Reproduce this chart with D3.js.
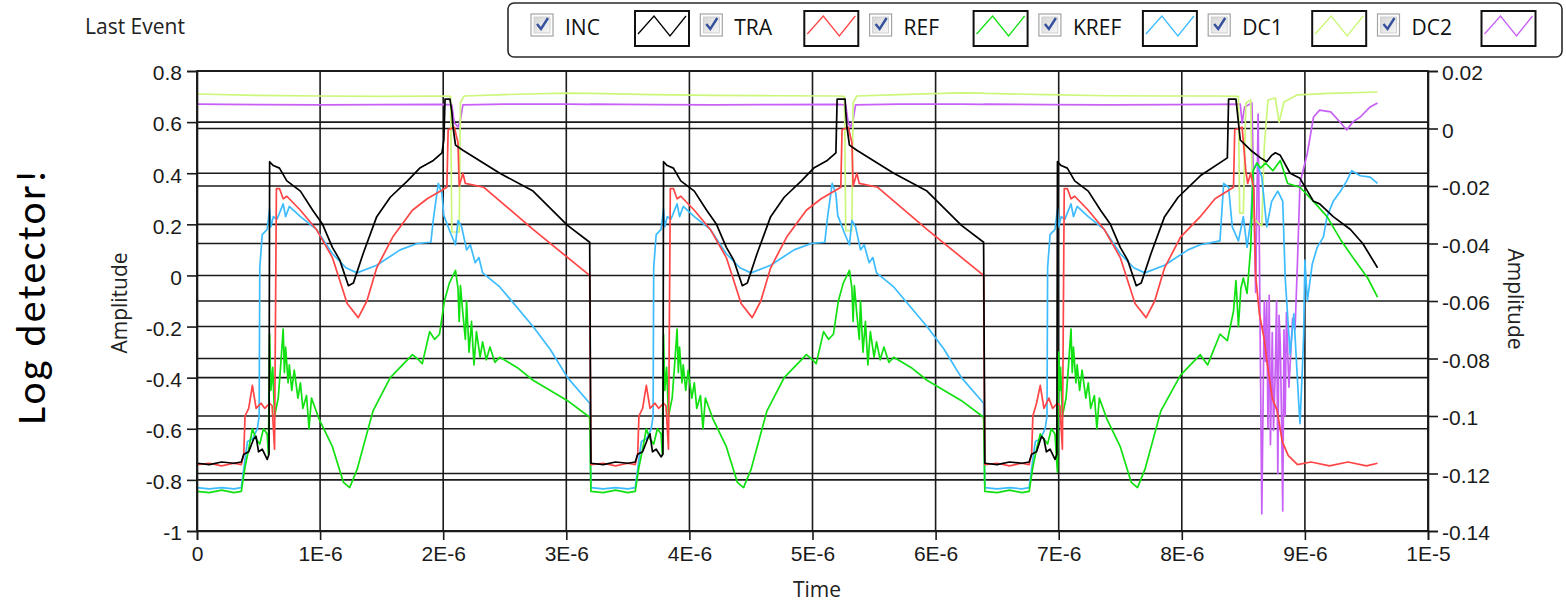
<!DOCTYPE html>
<html>
<head>
<meta charset="utf-8">
<script src="https://cdn.jsdelivr.net/npm/d3@7"></script>
<style>
  body { margin: 0; background: #fff; }
  svg { display: block; font-family: "Segoe UI", "Open Sans", sans-serif; }
</style>
</head>
<body>
<svg width="1566" height="606"></svg>
<script>
// legend / plots
var seriesNames = ["INC", "TRA", "REF", "KREF", "DC1", "DC2"];
var seriesColors = ["#000000", "#ff4545", "#11e011", "#3cbcff", "#ccf77a", "#c860f5"];

// ticks
var timeTicks = [0, 1e-6, 2e-6, 3e-6, 4e-6, 5e-6, 6e-6, 7e-6, 8e-6, 9e-6, 1e-5];
var timeLabels = ["0", "1E-6", "2E-6", "3E-6", "4E-6", "5E-6", "6E-6", "7E-6", "8E-6", "9E-6", "1E-5"];
var leftTicks = [0.8, 0.6, 0.4, 0.2, 0, -0.2, -0.4, -0.6, -0.8, -1];
var leftLabels = ["0.8", "0.6", "0.4", "0.2", "0", "-0.2", "-0.4", "-0.6", "-0.8", "-1"];
var rightTicks = [0.02, 0, -0.02, -0.04, -0.06, -0.08, -0.1, -0.12, -0.14];
var rightLabels = ["0.02", "0", "-0.02", "-0.04", "-0.06", "-0.08", "-0.1", "-0.12", "-0.14"];

// traces: [time in microseconds, amplitude]
var inc = [
  [0,-0.735],[0.1,-0.74],[0.2,-0.73],[0.3,-0.735],[0.36,-0.73],[0.38,-0.70],[0.42,-0.69],[0.46,-0.64],[0.48,-0.63],[0.5,-0.69],[0.53,-0.68],[0.57,-0.72],[0.585,-0.70],
  [0.59,0.445],[0.62,0.43],[0.67,0.42],[0.73,0.37],[0.84,0.33],[0.94,0.255],[1.02,0.20],[1.10,0.11],[1.16,0.06],[1.23,-0.04],[1.27,-0.03],[1.35,0.086],[1.46,0.23],[1.57,0.306],[1.71,0.37],[1.81,0.42],[1.92,0.45],[1.99,0.48],[2.005,0.53],
  [2.015,0.69],[2.055,0.69],[2.07,0.64],[2.08,0.58],[2.10,0.51],[2.16,0.49],[2.46,0.40],[2.73,0.33],[3.01,0.196],[3.19,0.13],
  [3.2,-0.735],[3.3,-0.74],[3.4,-0.73],[3.5,-0.735],[3.56,-0.73],[3.58,-0.70],[3.62,-0.69],[3.66,-0.64],[3.68,-0.62],[3.70,-0.69],[3.73,-0.68],[3.77,-0.71],[3.785,-0.70],
  [3.79,0.445],[3.82,0.43],[3.87,0.42],[3.93,0.37],[4.04,0.33],[4.14,0.255],[4.22,0.20],[4.30,0.11],[4.36,0.06],[4.43,-0.04],[4.47,-0.03],[4.55,0.086],[4.66,0.23],[4.77,0.306],[4.91,0.37],[5.01,0.42],[5.12,0.45],[5.19,0.48],
  [5.20,0.69],[5.265,0.69],[5.27,0.64],[5.28,0.58],[5.30,0.51],[5.36,0.49],[5.66,0.40],[5.93,0.33],[6.21,0.196],[6.39,0.13],
  [6.4,-0.735],[6.5,-0.74],[6.6,-0.73],[6.7,-0.735],[6.76,-0.73],[6.78,-0.70],[6.82,-0.69],[6.86,-0.63],[6.88,-0.64],[6.90,-0.69],[6.93,-0.68],[6.97,-0.72],[6.985,-0.70],
  [6.99,0.445],[7.02,0.43],[7.07,0.42],[7.13,0.37],[7.24,0.33],[7.34,0.255],[7.42,0.20],[7.50,0.11],[7.56,0.06],[7.63,-0.04],[7.67,-0.03],[7.75,0.086],[7.86,0.23],[7.97,0.306],[8.15,0.39],[8.37,0.46],
  [8.38,0.69],[8.44,0.69],[8.475,0.53],[8.56,0.49],[8.64,0.46],[8.69,0.445],[8.73,0.47],[8.76,0.48],[8.80,0.47],[8.88,0.40],[8.96,0.38],[9.07,0.29],[9.12,0.28],[9.23,0.23],[9.37,0.18],[9.47,0.125],[9.59,0.03]
];

var tra = [
  [0,-0.74],[0.1,-0.735],[0.2,-0.745],[0.3,-0.735],[0.36,-0.74],[0.38,-0.70],[0.39,-0.55],[0.42,-0.52],[0.45,-0.43],[0.48,-0.52],[0.52,-0.50],[0.55,-0.52],[0.59,-0.50],[0.61,-0.51],[0.63,-0.68],
  [0.645,0.34],[0.67,0.34],[0.70,0.30],[0.73,0.31],[0.84,0.255],[0.97,0.18],[1.10,0.07],[1.22,-0.11],[1.31,-0.165],[1.38,-0.10],[1.46,0.03],[1.59,0.15],[1.75,0.255],[1.87,0.30],[2.03,0.345],
  [2.04,0.57],[2.09,0.58],[2.12,0.52],[2.13,0.35],[2.16,0.40],[2.18,0.36],[2.33,0.345],[2.73,0.18],[3.19,0.0],
  [3.2,-0.74],[3.3,-0.735],[3.4,-0.745],[3.5,-0.735],[3.56,-0.74],[3.58,-0.70],[3.59,-0.55],[3.62,-0.52],[3.65,-0.43],[3.68,-0.52],[3.72,-0.50],[3.75,-0.52],[3.79,-0.50],[3.81,-0.51],[3.83,-0.68],
  [3.845,0.34],[3.87,0.34],[3.90,0.30],[3.93,0.31],[4.04,0.255],[4.17,0.18],[4.30,0.07],[4.42,-0.11],[4.51,-0.165],[4.58,-0.10],[4.66,0.03],[4.79,0.15],[4.95,0.255],[5.07,0.30],[5.23,0.345],
  [5.24,0.57],[5.29,0.58],[5.32,0.52],[5.33,0.35],[5.36,0.40],[5.38,0.36],[5.53,0.345],[5.93,0.18],[6.39,0.0],
  [6.4,-0.74],[6.5,-0.735],[6.6,-0.745],[6.7,-0.735],[6.76,-0.74],[6.78,-0.70],[6.79,-0.55],[6.82,-0.50],[6.85,-0.43],[6.88,-0.52],[6.92,-0.48],[6.95,-0.52],[6.99,-0.50],[7.01,-0.51],[7.03,-0.68],
  [7.045,0.34],[7.07,0.34],[7.10,0.30],[7.13,0.31],[7.24,0.255],[7.37,0.18],[7.50,0.07],[7.62,-0.11],[7.71,-0.165],[7.78,-0.10],[7.86,0.03],[7.99,0.15],[8.15,0.23],[8.27,0.30],[8.42,0.345],
  [8.43,0.57],[8.49,0.58],[8.52,0.41],[8.535,0.36],[8.56,0.40],[8.585,0.34],[8.60,0.0],[8.63,-0.15],[8.67,-0.25],[8.69,-0.33],[8.735,-0.48],[8.775,-0.53],[8.816,-0.65],[8.865,-0.705],[8.94,-0.74],
  [9.05,-0.73],[9.2,-0.745],[9.35,-0.73],[9.5,-0.745],[9.59,-0.735]
];

var ref = [
  [0,-0.845],[0.1,-0.85],[0.2,-0.84],[0.3,-0.85],[0.36,-0.845],[0.39,-0.75],[0.42,-0.68],[0.45,-0.60],[0.48,-0.64],[0.51,-0.66],[0.54,-0.60],[0.57,-0.62],[0.58,-0.70],
  [0.59,-0.23],[0.60,-0.45],[0.615,-0.36],[0.63,-0.55],[0.66,-0.48],[0.68,-0.35],[0.70,-0.21],[0.71,-0.38],[0.72,-0.28],[0.74,-0.42],[0.75,-0.35],[0.77,-0.45],[0.79,-0.37],[0.82,-0.48],[0.84,-0.42],[0.86,-0.52],[0.89,-0.47],[0.91,-0.60],[0.93,-0.48],[0.96,-0.52],[0.99,-0.56],
  [1.10,-0.67],[1.19,-0.81],[1.24,-0.83],[1.30,-0.76],[1.43,-0.53],[1.57,-0.40],[1.75,-0.31],[1.80,-0.33],[1.83,-0.345],[1.89,-0.22],[1.93,-0.25],[1.97,-0.23],[2.01,-0.10],[2.05,-0.03],[2.07,-0.01],[2.10,0.02],
  [2.12,-0.05],[2.13,-0.18],[2.14,-0.04],[2.16,-0.15],[2.18,-0.25],[2.19,-0.10],[2.21,-0.30],[2.23,-0.18],[2.25,-0.35],[2.27,-0.22],[2.30,-0.32],[2.32,-0.26],[2.35,-0.33],[2.38,-0.28],[2.42,-0.34],[2.46,-0.32],[2.60,-0.36],[2.73,-0.41],[3.01,-0.49],[3.19,-0.555],
  [3.2,-0.845],[3.3,-0.85],[3.4,-0.84],[3.5,-0.85],[3.56,-0.845],[3.59,-0.75],[3.62,-0.68],[3.65,-0.60],[3.68,-0.64],[3.71,-0.66],[3.74,-0.60],[3.77,-0.62],[3.78,-0.70],
  [3.79,-0.23],[3.80,-0.45],[3.815,-0.36],[3.83,-0.55],[3.86,-0.48],[3.88,-0.35],[3.90,-0.21],[3.91,-0.38],[3.92,-0.28],[3.94,-0.42],[3.95,-0.35],[3.97,-0.45],[3.99,-0.37],[4.02,-0.48],[4.04,-0.42],[4.06,-0.52],[4.09,-0.47],[4.11,-0.60],[4.13,-0.48],[4.16,-0.52],[4.19,-0.56],
  [4.30,-0.67],[4.39,-0.81],[4.44,-0.83],[4.50,-0.76],[4.63,-0.53],[4.77,-0.40],[4.95,-0.31],[5.00,-0.33],[5.03,-0.345],[5.09,-0.22],[5.13,-0.25],[5.17,-0.23],[5.21,-0.10],[5.25,-0.03],[5.27,-0.01],[5.30,0.02],
  [5.32,-0.05],[5.33,-0.18],[5.34,-0.04],[5.36,-0.15],[5.38,-0.25],[5.39,-0.10],[5.41,-0.30],[5.43,-0.18],[5.45,-0.35],[5.47,-0.22],[5.50,-0.32],[5.52,-0.26],[5.55,-0.33],[5.58,-0.28],[5.62,-0.34],[5.66,-0.32],[5.80,-0.36],[5.93,-0.41],[6.21,-0.49],[6.39,-0.555],
  [6.4,-0.845],[6.5,-0.85],[6.6,-0.84],[6.7,-0.85],[6.76,-0.845],[6.79,-0.75],[6.82,-0.68],[6.85,-0.62],[6.88,-0.64],[6.91,-0.66],[6.94,-0.60],[6.97,-0.62],[6.98,-0.70],[6.99,-0.77],
  [7.0,-0.30],[7.01,-0.45],[7.015,-0.36],[7.03,-0.55],[7.06,-0.48],[7.08,-0.35],[7.10,-0.21],[7.11,-0.38],[7.12,-0.28],[7.14,-0.42],[7.15,-0.35],[7.17,-0.45],[7.19,-0.37],[7.22,-0.48],[7.24,-0.42],[7.26,-0.52],[7.29,-0.47],[7.31,-0.60],[7.33,-0.48],[7.36,-0.52],[7.39,-0.56],
  [7.50,-0.67],[7.59,-0.81],[7.64,-0.83],[7.70,-0.76],[7.83,-0.53],[7.99,-0.39],[8.15,-0.31],[8.21,-0.35],[8.31,-0.23],[8.37,-0.255],[8.42,-0.14],[8.44,-0.02],[8.46,-0.20],[8.48,-0.05],[8.50,-0.01],[8.53,-0.07],
  [8.56,0.11],[8.58,0.41],[8.61,0.44],[8.64,0.42],[8.68,0.44],[8.74,0.41],[8.80,0.45],[8.86,0.36],[8.96,0.345],[9.07,0.29],[9.18,0.23],[9.29,0.14],[9.39,0.07],[9.51,-0.01],[9.59,-0.085]
];

var kref = [
  [0,-0.83],[0.1,-0.835],[0.2,-0.83],[0.3,-0.835],[0.36,-0.83],[0.39,-0.72],[0.41,-0.65],[0.45,-0.64],[0.49,-0.60],[0.505,-0.55],
  [0.51,0.03],[0.53,0.16],[0.57,0.18],[0.59,0.26],[0.60,0.19],[0.62,0.23],[0.65,0.22],[0.70,0.28],[0.72,0.23],[0.75,0.27],[0.84,0.23],[0.97,0.18],[1.10,0.085],[1.21,0.03],[1.30,0.01],[1.46,0.04],[1.65,0.10],[1.79,0.125],[1.90,0.13],
  [1.92,0.22],[1.96,0.36],[1.99,0.32],[2.005,0.235],[2.06,0.165],[2.10,0.12],[2.12,0.215],[2.15,0.19],[2.19,0.10],[2.22,0.12],[2.26,0.05],[2.29,0.07],[2.32,0.01],[2.46,-0.045],[2.73,-0.20],[2.87,-0.29],[3.01,-0.40],[3.19,-0.50],
  [3.2,-0.83],[3.3,-0.835],[3.4,-0.83],[3.5,-0.835],[3.56,-0.83],[3.59,-0.72],[3.61,-0.65],[3.65,-0.64],[3.69,-0.60],[3.705,-0.55],
  [3.71,0.03],[3.73,0.16],[3.77,0.18],[3.79,0.26],[3.80,0.19],[3.82,0.23],[3.85,0.22],[3.90,0.28],[3.92,0.23],[3.95,0.27],[4.04,0.23],[4.17,0.18],[4.30,0.085],[4.41,0.03],[4.50,0.01],[4.66,0.04],[4.85,0.10],[4.99,0.125],[5.10,0.13],
  [5.12,0.22],[5.16,0.36],[5.19,0.32],[5.205,0.235],[5.26,0.165],[5.30,0.12],[5.32,0.215],[5.35,0.19],[5.39,0.10],[5.42,0.12],[5.46,0.05],[5.49,0.07],[5.52,0.01],[5.66,-0.045],[5.93,-0.20],[6.07,-0.29],[6.21,-0.40],[6.39,-0.50],
  [6.4,-0.83],[6.5,-0.835],[6.6,-0.83],[6.7,-0.835],[6.76,-0.83],[6.79,-0.72],[6.81,-0.65],[6.85,-0.64],[6.89,-0.60],[6.905,-0.55],
  [6.91,0.03],[6.93,0.16],[6.97,0.18],[6.99,0.26],[7.00,0.19],[7.02,0.23],[7.05,0.22],[7.10,0.28],[7.12,0.23],[7.15,0.27],[7.24,0.23],[7.37,0.18],[7.50,0.085],[7.61,0.03],[7.70,0.01],[7.86,0.04],[8.05,0.10],[8.15,0.12],[8.31,0.135],
  [8.34,0.36],[8.38,0.345],[8.41,0.19],[8.46,0.135],[8.50,0.23],[8.53,0.11],[8.56,0.215],[8.58,0.41],[8.61,0.44],[8.65,0.385],[8.69,0.19],[8.73,0.29],[8.78,0.33],[8.82,0.29],[8.84,-0.01],[8.88,-0.31],[8.91,-0.15],
  [8.95,-0.50],[8.96,-0.58],[8.98,-0.36],[8.99,-0.23],[9.00,0.06],[9.02,-0.10],[9.06,0.045],[9.10,0.11],[9.15,0.15],[9.18,0.23],[9.23,0.29],[9.29,0.33],[9.34,0.37],[9.38,0.41],[9.45,0.39],[9.53,0.385],[9.59,0.36]
];

// DC1 and DC2 are read on the right axis
var dc1 = [
  [0,0.012],[0.5,0.0115],[1.0,0.0113],[1.5,0.0112],[2.0,0.0113],[2.06,0.0112],[2.07,-0.036],[2.13,-0.036],[2.14,0.009],[2.17,0.0113],[2.5,0.0118],[3.0,0.0123],[3.19,0.0122],
  [3.2,0.0122],[3.7,0.0118],[4.2,0.0115],[4.7,0.0114],[5.2,0.0113],[5.26,0.0112],[5.27,-0.0355],[5.32,-0.0355],[5.33,0.009],[5.36,0.0113],[5.7,0.0118],[6.2,0.0124],[6.39,0.0123],
  [6.4,0.0122],[6.9,0.0118],[7.4,0.0114],[7.9,0.0113],[8.3,0.0113],[8.46,0.0112],[8.47,-0.0294],[8.50,-0.0294],[8.52,0.0089],[8.56,0.0099],[8.575,-0.031],[8.65,-0.034],[8.67,-0.0064],
  [8.70,0.0099],[8.76,0.0106],[8.79,0.0022],[8.83,0.0092],[8.94,0.0117],[9.2,0.0122],[9.59,0.0127]
];

var dc2 = [
  [0,0.0085],[0.5,0.0083],[1.0,0.0082],[1.5,0.0083],[2.0,0.0084],[2.07,0.0082],[2.09,0.002],[2.12,0.0005],[2.14,0.003],[2.16,0.0082],[2.5,0.0085],[3.0,0.0085],[3.19,0.0084],
  [3.2,0.0085],[3.7,0.0083],[4.2,0.0082],[4.7,0.0083],[5.2,0.0084],[5.27,0.0082],[5.29,0.002],[5.31,0.0005],[5.33,0.003],[5.35,0.0082],[5.7,0.0085],[6.2,0.0085],[6.39,0.0084],
  [6.4,0.0085],[6.9,0.0083],[7.4,0.0082],[7.9,0.0083],[8.3,0.0084],[8.475,0.0085],[8.49,0.0019],[8.51,0.0075],[8.57,0.0089],[8.60,-0.057],[8.62,0.005],[8.65,-0.134],[8.67,-0.06],[8.68,-0.081],
  [8.69,-0.06],[8.70,-0.104],[8.71,-0.058],[8.72,-0.11],[8.735,-0.071],[8.745,-0.105],[8.76,-0.083],[8.77,-0.06],[8.78,-0.12],[8.79,-0.065],[8.80,-0.075],[8.81,-0.10],[8.82,-0.133],[8.83,-0.07],
  [8.84,-0.10],[8.85,-0.064],[8.87,-0.09],[8.90,-0.066],[8.92,-0.07],[8.94,-0.046],[8.96,-0.019],[9.02,-0.0086],[9.07,0.004],[9.12,0.0064],[9.21,0.0058],[9.29,0.002],[9.34,-0.0005],[9.39,0.0023],[9.45,0.004],[9.53,0.0075],[9.59,0.0089]
];

var seriesData = [inc, tra, ref, kref, dc1, dc2];
var seriesAxis = ["left", "left", "left", "left", "right", "right"];

var svg = d3.select("svg");
var plotLeft = 197, plotRight = 1428, plotTop = 71, plotBottom = 531;

var x = d3.scaleLinear().domain([0, 1e-5]).range([plotLeft, plotRight]);
var yL = d3.scaleLinear().domain([-1, 0.8]).range([plotBottom, plotTop]);
var yR = d3.scaleLinear().domain([-0.14, 0.02]).range([plotBottom, plotTop]);

svg.append("rect").attr("width", 1566).attr("height", 606).attr("fill", "#fff");

// grid (both y axes draw their own lines)
var grid = svg.append("g").attr("stroke", "#1a1a1a").attr("stroke-width", 1.6);
grid.selectAll("line.hl").data(leftTicks).enter().append("line")
  .attr("x1", plotLeft).attr("x2", plotRight)
  .attr("y1", function (d) { return yL(d); }).attr("y2", function (d) { return yL(d); });
grid.selectAll("line.hr").data(rightTicks).enter().append("line")
  .attr("x1", plotLeft).attr("x2", plotRight)
  .attr("y1", function (d) { return yR(d); }).attr("y2", function (d) { return yR(d); });
grid.selectAll("line.v").data(timeTicks).enter().append("line")
  .attr("y1", plotTop).attr("y2", plotBottom)
  .attr("x1", function (d) { return x(d); }).attr("x2", function (d) { return x(d); });
grid.append("rect")
  .attr("x", plotLeft).attr("y", plotTop)
  .attr("width", plotRight - plotLeft).attr("height", plotBottom - plotTop)
  .attr("fill", "none");

// traces, last plot drawn first
var lineL = d3.line().x(function (d) { return x(d[0] * 1e-6); }).y(function (d) { return yL(d[1]); });
var lineR = d3.line().x(function (d) { return x(d[0] * 1e-6); }).y(function (d) { return yR(d[1]); });

var traces = svg.append("g").attr("fill", "none").attr("stroke-width", 1.7).attr("stroke-linejoin", "round");
for (var i = seriesData.length - 1; i >= 0; i--) {
  traces.append("path")
    .attr("d", seriesAxis[i] === "left" ? lineL(seriesData[i]) : lineR(seriesData[i]))
    .attr("stroke", seriesColors[i]);
}

// axes
function styleAxis(g) {
  g.selectAll(".domain").attr("stroke", "#1a1a1a").attr("stroke-width", 1.6);
  g.selectAll(".tick line").attr("stroke", "#1a1a1a").attr("stroke-width", 1.6);
  g.selectAll(".tick text").attr("fill", "#1a1a1a").style("font-size", "21px");
}

svg.append("g")
  .attr("transform", "translate(" + plotLeft + ",0)")
  .call(d3.axisLeft(yL).tickValues(leftTicks).tickSizeOuter(0).tickSize(10).tickPadding(5)
    .tickFormat(function (d, i) { return leftLabels[i]; }))
  .call(styleAxis)
  .selectAll(".tick text").attr("dy", "0.42em");

svg.append("g")
  .attr("transform", "translate(" + plotRight + ",0)")
  .call(d3.axisRight(yR).tickValues(rightTicks).tickSizeOuter(0).tickSize(10).tickPadding(4)
    .tickFormat(function (d, i) { return rightLabels[i]; }))
  .call(styleAxis)
  .selectAll(".tick text").attr("dy", "0.42em");

svg.append("g")
  .attr("transform", "translate(0," + plotBottom + ")")
  .call(d3.axisBottom(x).tickValues(timeTicks).tickSizeOuter(0).tickSize(9).tickPadding(6)
    .tickFormat(function (d, i) { return timeLabels[i]; }))
  .call(styleAxis);

// axis titles
svg.append("text").attr("transform", "translate(127,303) rotate(-90)")
  .attr("text-anchor", "middle").style("font-size", "21px").attr("fill", "#222").text("Amplitude");
svg.append("text").attr("transform", "translate(1508,299) rotate(90)")
  .attr("text-anchor", "middle").style("font-size", "21px").attr("fill", "#222").text("Amplitude");
svg.append("text").attr("x", 817).attr("y", 597)
  .attr("text-anchor", "middle").style("font-size", "21px").attr("fill", "#222").text("Time");

svg.append("text").attr("x", 85).attr("y", 34)
  .style("font-size", "21px").attr("fill", "#222").text("Last Event");

svg.append("text").attr("transform", "translate(45,297) rotate(-90)")
  .attr("text-anchor", "middle").style("font-size", "42px").attr("fill", "#000")
  .attr("textLength", 255).attr("lengthAdjust", "spacing")
  .style("font-family", "Calibri, Carlito, 'Open Sans', sans-serif").text("Log detector!");

// legend
var legend = svg.append("g");
legend.append("rect").attr("x", 508).attr("y", 3).attr("width", 1054).attr("height", 54).attr("rx", 6)
  .attr("fill", "#fff").attr("stroke", "#2a2a2a").attr("stroke-width", 1.6);

var grad = svg.append("defs").append("linearGradient").attr("id", "cb").attr("x1", 0).attr("y1", 0).attr("x2", 1).attr("y2", 1);
grad.append("stop").attr("offset", "0%").attr("stop-color", "#d6d6d6");
grad.append("stop").attr("offset", "100%").attr("stop-color", "#f6f6f6");

var items = legend.selectAll("g.item").data(seriesNames).enter().append("g")
  .attr("transform", function (d, i) { return "translate(" + (531 + i * 169.3) + ",0)"; });

items.append("rect").attr("x", 0).attr("y", 14).attr("width", 22).attr("height", 22)
  .attr("fill", "#fff").attr("stroke", "#a4a4a4").attr("stroke-width", 1.2);
items.append("rect").attr("x", 3).attr("y", 17).attr("width", 16).attr("height", 16)
  .attr("fill", "url(#cb)").attr("stroke", "#c8c8c8").attr("stroke-width", 0.8);
items.append("path").attr("d", "M6,24 L10,29 L17,18")
  .attr("fill", "none").attr("stroke", "#35509c").attr("stroke-width", 2.4);

items.append("text").attr("x", 34).attr("y", 35).style("font-size", "21px").attr("fill", "#111")
  .text(function (d) { return d; });

items.append("rect").attr("x", 104).attr("y", 11).attr("width", 54).attr("height", 35)
  .attr("fill", "#fff").attr("stroke", "#111").attr("stroke-width", 2);
items.append("path").attr("d", "M107,34 L123,16 L139,36 L155,16")
  .attr("fill", "none").attr("stroke-width", 1.3)
  .attr("stroke", function (d, i) { return seriesColors[i]; });
</script>
</body>
</html>
